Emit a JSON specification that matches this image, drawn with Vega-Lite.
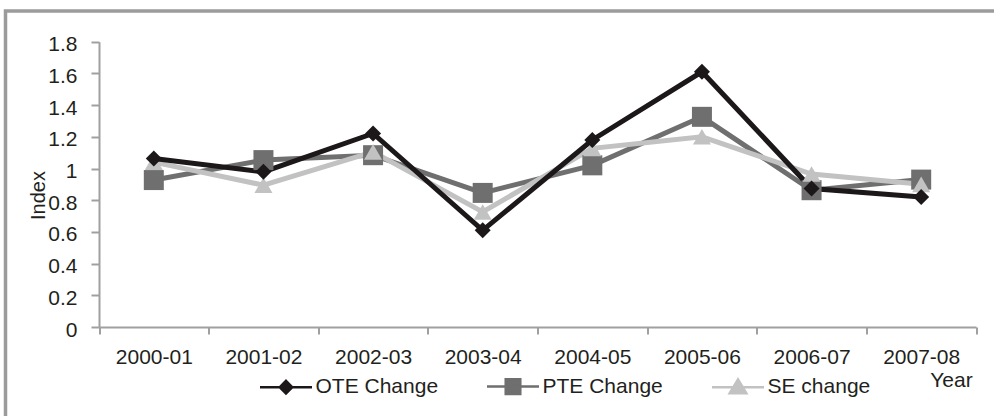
{
  "$schema": "https://vega.github.io/schema/vega-lite/v6.json",
  "width": 988.5,
  "height": 405,
  "autosize": {"type": "none"},
  "padding": {"left": 5.5, "top": 11, "right": 0, "bottom": 0},
  "background": "white",
  "config": {
    "view": {"stroke": "#9b9b9b", "strokeWidth": 3.5, "strokeDash": [988.5, 1393.5, 405]},
    "font": "Liberation Sans",
    "axis": {
      "grid": false,
      "domainColor": "#a0a0a0",
      "tickColor": "#a0a0a0",
      "domainWidth": 2,
      "tickWidth": 2,
      "labelColor": "#231f20",
      "titleColor": "#231f20",
      "labelFont": "Liberation Sans",
      "titleFont": "Liberation Sans",
      "titleFontWeight": "normal"
    }
  },
  "data": {
    "values": [
      {"series": "PTE Change", "year": "2000-01", "value": 0.927},
      {"series": "PTE Change", "year": "2001-02", "value": 1.053},
      {"series": "PTE Change", "year": "2002-03", "value": 1.084},
      {"series": "PTE Change", "year": "2003-04", "value": 0.846},
      {"series": "PTE Change", "year": "2004-05", "value": 1.02},
      {"series": "PTE Change", "year": "2005-06", "value": 1.326},
      {"series": "PTE Change", "year": "2006-07", "value": 0.863},
      {"series": "PTE Change", "year": "2007-08", "value": 0.93},
      {"series": "SE change", "year": "2000-01", "value": 1.04},
      {"series": "SE change", "year": "2001-02", "value": 0.895},
      {"series": "SE change", "year": "2002-03", "value": 1.105},
      {"series": "SE change", "year": "2003-04", "value": 0.726},
      {"series": "SE change", "year": "2004-05", "value": 1.127},
      {"series": "SE change", "year": "2005-06", "value": 1.2},
      {"series": "SE change", "year": "2006-07", "value": 0.965},
      {"series": "SE change", "year": "2007-08", "value": 0.9},
      {"series": "OTE Change", "year": "2000-01", "value": 1.063},
      {"series": "OTE Change", "year": "2001-02", "value": 0.979},
      {"series": "OTE Change", "year": "2002-03", "value": 1.221},
      {"series": "OTE Change", "year": "2003-04", "value": 0.61},
      {"series": "OTE Change", "year": "2004-05", "value": 1.18},
      {"series": "OTE Change", "year": "2005-06", "value": 1.61},
      {"series": "OTE Change", "year": "2006-07", "value": 0.874},
      {"series": "OTE Change", "year": "2007-08", "value": 0.82}
    ]
  },
  "encoding": {
    "x": {
      "field": "year",
      "type": "ordinal",
      "sort": null,
      "scale": {"type": "band", "range": [93.5, 970.5], "paddingInner": 0, "paddingOuter": 0},
      "axis": {
        "orient": "bottom",
        "offset": -89,
        "tickSize": 7,
        "tickBand": "extent",
        "labelPadding": 12,
        "labelFontSize": 21,
        "labelAngle": 0,
        "title": "Year",
        "titleX": 945.5,
        "titleY": 53,
        "titleAlign": "center",
        "titleBaseline": "middle",
        "titleFontSize": 21
      }
    },
    "y": {
      "field": "value",
      "type": "quantitative",
      "scale": {"domain": [0, 1.8], "range": [316, 30.7], "nice": false},
      "axis": {
        "orient": "left",
        "offset": -93.5,
        "values": [0, 0.2, 0.4, 0.6, 0.8, 1, 1.2, 1.4, 1.6, 1.8],
        "format": ".1~f",
        "tickSize": 8,
        "labelPadding": 14,
        "labelFontSize": 21,
        "labelBaseline": "middle",
        "labelOffset": 3,
        "title": "Index",
        "titleX": -61,
        "titleY": 184,
        "titleAngle": -90,
        "titleAlign": "center",
        "titleBaseline": "middle",
        "titleFontSize": 20
      }
    },
    "color": {
      "field": "series",
      "type": "nominal",
      "scale": {"domain": ["OTE Change", "PTE Change", "SE change"], "range": ["#1c1718", "#6f6f6f", "#c2c2c2"]},
      "legend": {
        "orient": "none",
        "legendX": 253,
        "legendY": 348,
        "direction": "horizontal",
        "title": null,
        "symbolSize": 2704,
        "symbolStrokeWidth": 2.5,
        "labelFontSize": 21,
        "labelOffset": 2,
        "labelColor": "#231f20",
        "labelFont": "Liberation Sans",
        "columnPadding": 43,
        "padding": 0,
        "encode": {
          "symbols": {
            "update": {
              "shape": {"signal": "datum.value === 'OTE Change' ? 'M-1,0H1M0,-0.24L0.24,0L0,0.24L-0.24,0Z' : datum.value === 'PTE Change' ? 'M-1,0H1M-0.28,-0.28H0.28V0.28H-0.28Z' : 'M-1,0H1M0,-0.3L0.32,0.24H-0.32Z'"},
              "fill": {"scale": "color", "field": "value"},
              "stroke": {"scale": "color", "field": "value"},
              "strokeWidth": {"value": 2.5},
              "opacity": {"value": 1}
            }
          }
        }
      }
    }
  },
  "layer": [
    {
      "mark": {"type": "line", "strokeWidth": 5, "strokeJoin": "miter"}
    },
    {
      "transform": [{"filter": "datum.series === 'PTE Change'"}],
      "mark": {"type": "point", "shape": "square", "size": 400, "filled": true, "opacity": 1, "strokeWidth": 0}
    },
    {
      "transform": [{"filter": "datum.series === 'SE change'"}],
      "mark": {"type": "point", "shape": "triangle-up", "size": 324, "filled": true, "opacity": 1, "strokeWidth": 0}
    },
    {
      "transform": [{"filter": "datum.series === 'OTE Change'"}],
      "mark": {"type": "point", "shape": "diamond", "size": 256, "filled": true, "opacity": 1, "strokeWidth": 0}
    }
  ]
}
